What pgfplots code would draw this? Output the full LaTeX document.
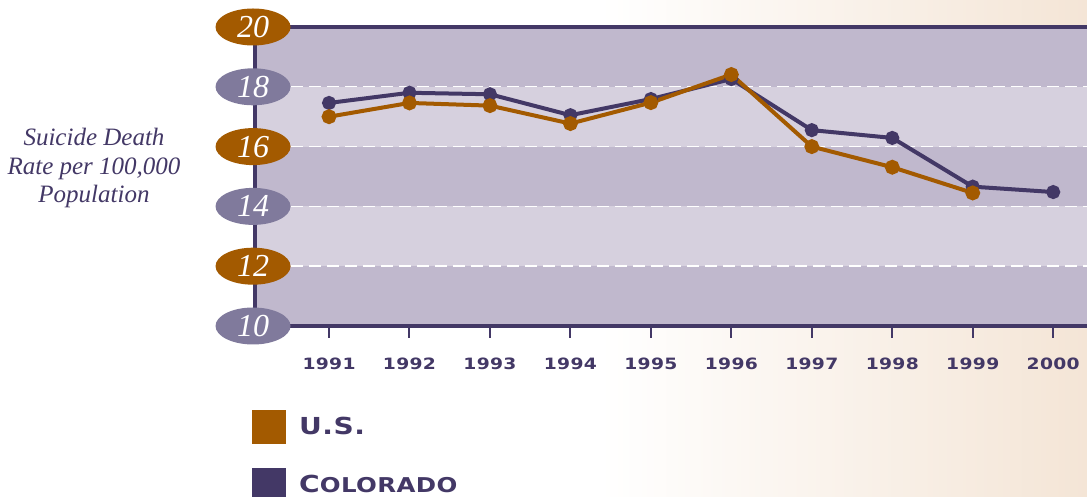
\documentclass[border=0pt]{standalone}
\usepackage{fontspec}
\setmainfont{Liberation Serif}
\newfontfamily\widefont{DejaVu Sans}[FakeStretch=1.2, LetterSpace=2]
\usepackage{pgfplots}
\pgfplotsset{compat=1.18}
\usetikzlibrary{shapes.geometric}

\definecolor{usorange}{RGB}{163,90,0}
\definecolor{copurple}{RGB}{67,56,102}
\definecolor{bandD}{RGB}{192,184,205}
\definecolor{bandL}{RGB}{214,208,222}
\definecolor{tickgrey}{RGB}{128,122,156}
\definecolor{peach}{RGB}{244,229,214}

\begin{document}
\begin{tikzpicture}
% page background
\fill[white] (0,0) rectangle (543.5pt,248.5pt);
\shade[left color=white, right color=peach] (300pt,0pt) rectangle (543.5pt,248.5pt);
% plot area bands (axis sits at 127.5pt,85.5pt; 416pt x 149.5pt)
\fill[bandD] (127.5pt,85.5pt) rectangle (543.5pt,235pt);
\fill[bandL] (127.5pt,115.4pt) rectangle (543.5pt,145.3pt);
\fill[bandL] (127.5pt,175.2pt) rectangle (543.5pt,205.1pt);
\foreach \yy in {115.4,145.3,175.2,205.1}
  \draw[white, line width=0.7pt, dash pattern=on 6pt off 3pt] (127.5pt,\yy pt) -- (543.5pt,\yy pt);
\draw[copurple, line width=2pt] (545pt,235pt) -- (127.5pt,235pt) -- (127.5pt,85.5pt) -- (545pt,85.5pt);

\node[align=center, text=copurple, font=\fontsize{12.5}{14.25}\selectfont\itshape]
  at (47pt,164.5pt) {Suicide Death\\Rate per 100,000\\Population};

\begin{axis}[
  at={(127.5pt,85.5pt)}, anchor=south west,
  scale only axis, width=416pt, height=149.5pt,
  xmin=1990.08, xmax=2000.42, ymin=10, ymax=20,
  clip=false,
  axis line style={draw=none},
  xtick={1991,1992,1993,1994,1995,1996,1997,1998,1999,2000},
  xticklabels={1991,1992,1993,1994,1995,1996,1997,1998,1999,2000},
  xtick pos=bottom,
  tick align=outside,
  major tick length=6pt,
  xtick style={draw=copurple, line width=1pt},
  xticklabel style={text=copurple, inner sep=0pt, anchor=north, yshift=-10pt,
    font=\widefont\bfseries\fontsize{7.8}{8}\selectfont},
  ytick={10,14,18},
  yticklabels={10,14,18},
  extra y ticks={12,16,20},
  extra y tick labels={12,16,20},
  ytick style={draw=none},
  yticklabel style={ellipse, fill=tickgrey, text=white, inner sep=0pt,
    minimum width=37.5pt, minimum height=18.5pt, anchor=center, xshift=5pt,
    font=\fontsize{16}{16}\selectfont\itshape},
  extra y tick style={yticklabel style={fill=usorange}, ytick style={draw=none}},
  legend image code/.code={\fill[#1] (0pt,-8.25pt) rectangle (16.5pt,8.25pt);},
  legend cell align=left,
  legend style={at={(axis description cs:-0.0036,-0.281)}, anchor=north west,
    draw=none, fill=none, inner sep=0pt, row sep=12pt, column sep=6.5pt,
    nodes={inner sep=0pt, text=copurple},
    font=\widefont\bfseries\fontsize{11.7}{12}\selectfont},
]
\addlegendimage{usorange}
\addlegendentry{U.S.}
\addlegendimage{copurple}
\addlegendentry{C{\fontsize{10.2}{12}\selectfont OLORADO}}

\addplot[copurple, line width=2pt, mark=*, mark size=2.5pt,
  mark options={solid, fill=copurple}, forget plot]
  coordinates {(1991,17.46)(1992,17.80)(1993,17.75)(1994,17.05)(1995,17.59)
               (1996,18.26)(1997,16.55)(1998,16.29)(1999,14.66)(2000,14.48)};
\addplot[usorange, line width=2pt, mark=*, mark size=2.7pt,
  mark options={solid, fill=usorange}, forget plot]
  coordinates {(1991,17.00)(1992,17.46)(1993,17.37)(1994,16.77)(1995,17.47)
               (1996,18.41)(1997,16.00)(1998,15.31)(1999,14.45)};
\end{axis}
\pgfresetboundingbox
\path[use as bounding box] (0,0) rectangle (543.5pt,248.5pt);
\end{tikzpicture}
\end{document}
